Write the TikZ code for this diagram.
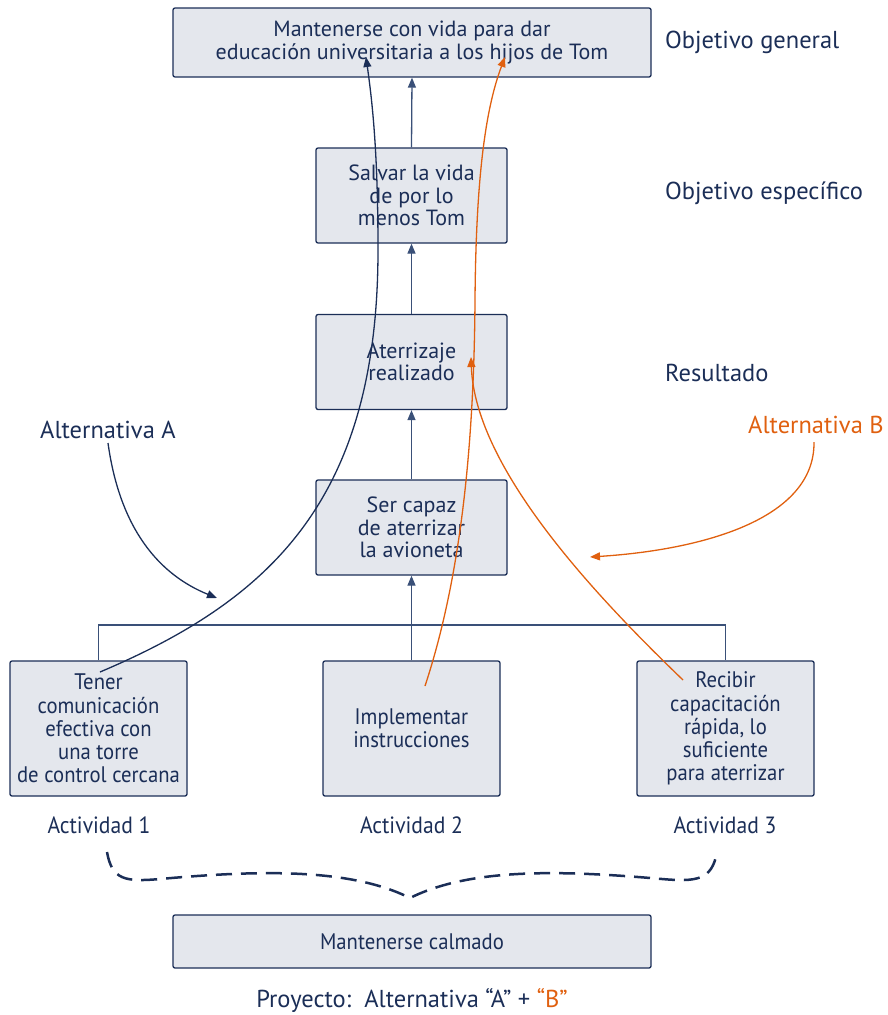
\documentclass[tikz,border=0pt]{standalone}
\usepackage{fontspec}
\setmainfont{PT Sans}
\newfontfamily\condfont{PT Sans}[FakeStretch=0.92]
\usetikzlibrary{arrows.meta}
\definecolor{navy}{HTML}{1B2E57}
\definecolor{boxfill}{HTML}{E4E7ED}
\definecolor{orng}{HTML}{E0600F}
\definecolor{treecol}{HTML}{3A5078}
\begin{document}
\begin{tikzpicture}[x=1pt,y=-1pt,
  box/.style={draw=navy, line width=1.3pt, fill=boxfill, rounded corners=2pt, align=center, text=navy, inner sep=0pt, font=\fontsize{22}{22.5}\selectfont},
  actbox/.style={box, font=\condfont\fontsize{22.5}{23.2}\selectfont},
  lab/.style={text=navy, inner sep=0pt, font=\fontsize{24.5}{28}\selectfont},
  actlab/.style={text=navy, inner sep=0pt, font=\condfont\fontsize{23.5}{26}\selectfont},
  tree/.style={draw=treecol, line width=1.3pt},
  tip/.style={-{Triangle[length=10pt,width=8pt]}},
  navycurve/.style={draw=navy, line width=1.3pt, tip},
  orcurve/.style={draw=orng, line width=1.3pt, tip},
]
\useasboundingbox (0,0) rectangle (887,1015);
% boxes
\node[box, minimum width=478pt, minimum height=69pt] (obj) at (412,42.5) {Mantenerse con vida para dar\\educación universitaria a los hijos de Tom};
\node[box, minimum width=191pt, minimum height=95pt] (esp) at (411.5,195.5) {Salvar la vida\\de por lo\\menos Tom};
\node[box, minimum width=191pt, minimum height=95pt] (res) at (411.5,362) {Aterrizaje\\realizado};
\node[box, minimum width=191pt, minimum height=95pt] (cap) at (411.5,527.5) {Ser capaz\\de aterrizar\\la avioneta};
\node[actbox, minimum width=177pt, minimum height=135pt] (a1) at (98.5,728.5) {Tener\\comunicación\\efectiva con\\una torre\\de control cercana};
\node[actbox, minimum width=177pt, minimum height=135pt] (a2) at (411.5,728.5) {Implementar\\instrucciones};
\node[actbox, minimum width=177pt, minimum height=135pt] (a3) at (725.5,728.5) {Recibir\\capacitación\\rápida, lo\\suficiente\\para aterrizar};
\node[actbox, minimum width=478pt, minimum height=53pt] (calm) at (412,941.5) {Mantenerse calmado};
% side labels
\node[lab, anchor=west] (lg) at (665,42) {Objetivo general};
\node[lab, anchor=west] (le) at (665,193) {Objetivo específico};
\node[lab, anchor=west] (lr) at (665,373) {Resultado};
\node[lab, anchor=west] (la) at (40,430) {Alternativa A};
\node[lab, anchor=west, text=orng] (lb) at (748,425) {Alternativa B};
\node[actlab] (t1) at (99,825) {Actividad 1};
\node[actlab] (t2) at (411.5,825) {Actividad 2};
\node[actlab] (t3) at (725,825) {Actividad 3};
\node[lab] (proj) at (412,1000) {Proyecto:\ \ Alternativa “A” + {\color{orng}“B”}};
% tree
\coordinate (bar) at (411.5,625);
\draw[tree] (a1.north) |- (bar) -| (a3.north);
\draw[tree, tip] (a2.north) -- (cap.south);
\draw[tree, tip] (cap.north) -- (res.south);
\draw[tree, tip] (res.north) -- (esp.south);
\draw[tree, tip] (esp.north) -- (obj.south);
% alternative A curve
\coordinate (na) at (100,672);
\coordinate (nm) at (378,250);
\coordinate (nb) at (366,57);
\draw[navycurve] (na) .. controls (270,600) and (378,500) .. (nm) .. controls (378,150) and (372,100) .. (nb);
% alternative B curves
\coordinate (oa) at (425,686);
\coordinate (om) at (475,300);
\coordinate (ob) at (505,57);
\draw[orcurve] (oa) .. controls (460,580) and (474,450) .. (om) .. controls (476,180) and (485,110) .. (ob);
\coordinate (pa) at (683,680);
\coordinate (pb) at (471,357);
\draw[orcurve] (pa) .. controls (600,600) and (475,470) .. (pb);
% label arrows
\coordinate (aa) at (108,443);
\coordinate (ab) at (217,598);
\draw[navycurve] (aa) .. controls (120,530) and (160,575) .. (ab);
\coordinate (ba) at (814,442);
\coordinate (bb) at (590,557);
\draw[orcurve] (ba) .. controls (815,520) and (700,550) .. (bb);
% brace
\coordinate (bl) at (107,852);
\coordinate (bt) at (410,898);
\coordinate (br) at (717,852);
\draw[navy, line width=2.5pt, dash pattern=on 16pt off 9pt] (bl) .. controls (112,880) and (125,882) .. (160,879) .. controls (260,870) and (350,868) .. (bt) .. controls (470,868) and (560,870) .. (662,879) .. controls (697,882) and (712,880) .. (br);
\end{tikzpicture}
\end{document}
